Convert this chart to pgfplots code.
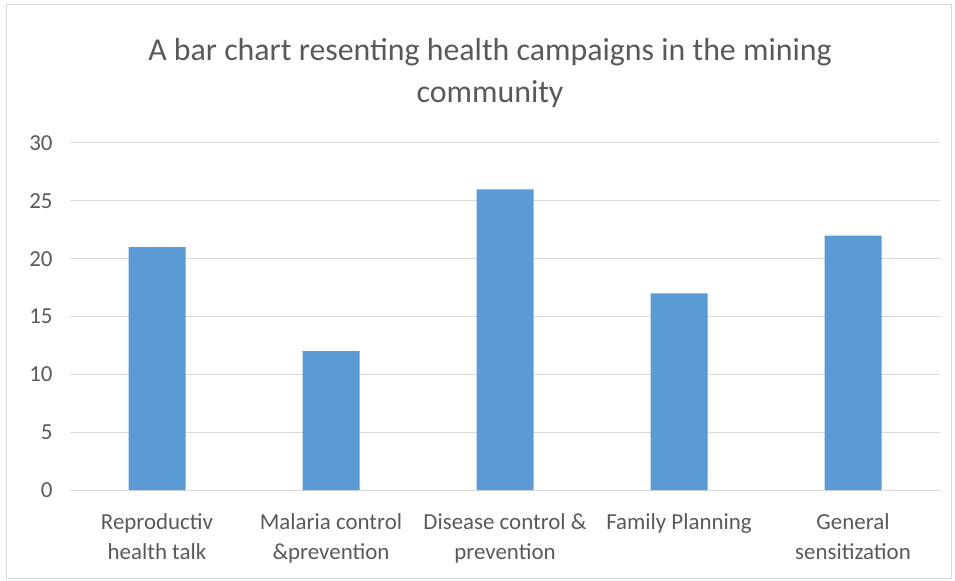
\documentclass[border=0pt]{standalone}
\usepackage{fontspec}
\setmainfont{Carlito}
\usepackage{pgfplots}
\pgfplotsset{compat=1.18}
\definecolor{barblue}{HTML}{5B9BD5}
\definecolor{txtgray}{HTML}{595959}
\definecolor{gridgray}{HTML}{D9D9D9}
\begin{document}
\begin{tikzpicture}
\path[use as bounding box] (0,0) rectangle (955bp,581bp);
\draw[gridgray,line width=1bp] (6bp,2bp) rectangle (951bp,576bp);
\node[align=center,text=txtgray,font=\fontsize{32}{42}\selectfont] at (490bp,508bp)
  {A bar chart resenting health campaigns in the mining\\community};
\begin{axis}[
  at={(70bp,91bp)}, anchor=south west,
  scale only axis, width=870bp, height=347bp,
  xmin=-0.5, xmax=4.5, ymin=0, ymax=30,
  ytick={0,5,...,30},
  xtick=data,
  xticklabels={{Reproductiv\\health talk},{Malaria control\\\&prevention},{Disease control \&\\prevention},{Family Planning},{General\\sensitization}},
  x tick label style={align=center,font=\fontsize{23}{30}\selectfont,text=txtgray,yshift=-20bp},
  y tick label style={font=\fontsize{23}{30}\selectfont,text=txtgray,xshift=-14bp},
  /pgf/number format/assume math mode=true,
  major tick length=0pt,
  axis x line*=bottom, axis y line*=left,
  x axis line style={gridgray,line width=1bp,-},
  y axis line style={draw=none},
  ymajorgrids, grid style={gridgray,line width=1bp},
  ybar, bar width=57bp,
  clip=false,
]
\addplot[fill=barblue,draw=none] coordinates {(0,21) (1,12) (2,26) (3,17) (4,22)};
\end{axis}
\end{tikzpicture}
\end{document}
